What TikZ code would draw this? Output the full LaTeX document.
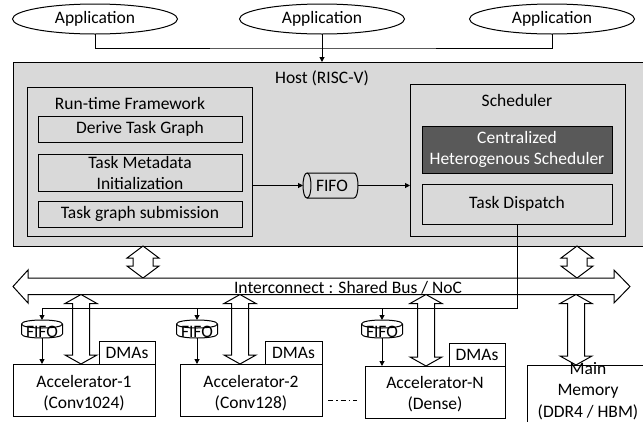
\documentclass[tikz,border=0pt]{standalone}
\usepackage{fontspec}
\setmainfont{Carlito}
\usetikzlibrary{shapes.geometric,arrows.meta}
\definecolor{hostgray}{HTML}{D9D9D9}
\definecolor{schedgray}{HTML}{595959}
\newcommand\fsz{\fontsize{17.5}{21.5}\selectfont}
% vertical hollow double arrow: x, ytop, ybot, shaft half, head half, head length
\newcommand\vdarr[6]{%
  \draw[fill=white, line join=miter] (#1,#2) -- ({#1+#5},{#2+#6}) -- ({#1+#4},{#2+#6})
    -- ({#1+#4},{#3-#6}) -- ({#1+#5},{#3-#6}) -- (#1,#3) -- ({#1-#5},{#3-#6})
    -- ({#1-#4},{#3-#6}) -- ({#1-#4},{#2+#6}) -- ({#1-#5},{#2+#6}) -- cycle;}
% vertical cylinder: cx, top, bottom, width, ry
\newcommand\vcyl[5]{%
  \draw[fill=white] ({#1-#4/2},{#2+#5}) -- ({#1-#4/2},{#3-#5})
    .. controls ({#1-#4/2},{#3+#5/3}) and ({#1+#4/2},{#3+#5/3}) .. ({#1+#4/2},{#3-#5})
    -- ({#1+#4/2},{#2+#5})
    .. controls ({#1+#4/2},{#2-#5/3}) and ({#1-#4/2},{#2-#5/3}) .. ({#1-#4/2},{#2+#5}) -- cycle;
  \draw ({#1-#4/2},{#2+#5}) .. controls ({#1-#4/2},{#2+7*#5/3}) and ({#1+#4/2},{#2+7*#5/3}) .. ({#1+#4/2},{#2+#5});}
\begin{document}
\begin{tikzpicture}[x=1pt,y=-1pt, line width=1pt,
  every node/.style={inner sep=0pt, outer sep=0pt, font=\fsz},
  bx/.style={draw, rectangle, align=center},
  gbx/.style={bx, fill=hostgray},
  wbx/.style={bx, fill=white},
  app/.style={draw, ellipse, fill=white, minimum width=165, minimum height=30},
  arr/.style={-{Triangle[length=5pt,width=5pt]}},
  txt/.style={align=center},
  fifobox/.style={minimum width=41, minimum height=18},
  dashdot/.style={dash pattern=on 5pt off 3pt on 1.5pt off 3pt}]
\useasboundingbox (0,0) rectangle (643,421);

% applications
\node[app] (app1) at (95,19) {Application};
\node[app] (app2) at (322,19) {Application};
\node[app] (app3) at (552,19) {Application};

% host
\node[gbx, minimum width=633, minimum height=184] (host) at (329.5,154) {};
\node (hosttitle) at (322,78) {Host (RISC-V)};

\coordinate (join) at (322,48);
\draw (app1.south) |- (join) -| (app3.south);
\draw[arr] (app2.south) -- (app2.south |- host.north);

% run-time framework
\node[gbx, minimum width=225, minimum height=149] (rt) at (139.5,161.5) {};
\node (rttitle) at (130,103) {Run-time Framework};
\node[gbx, minimum width=204, minimum height=26] (derive) at (140,129) {Derive Task Graph};
\node[gbx, minimum width=204, minimum height=37] (meta) at (140,172.5) {};
\node[txt] (metatxt) at (140,173) {Task Metadata\\Initialization};
\node[gbx, minimum width=204, minimum height=26] (submit) at (140,214) {Task graph submission};

% FIFO (horizontal)
\draw[fill=hostgray] (307,173) -- (354,173) .. controls (359.3,173) and (359.3,198) .. (354,198)
  -- (307,198) .. controls (301.7,198) and (301.7,173) .. (307,173) -- cycle;
\draw (307,173) .. controls (312.3,173) and (312.3,198) .. (307,198);
\node[minimum width=55, minimum height=25] (fifoh) at (330.5,185.5) {\hspace*{3pt}FIFO};

% scheduler
\node[gbx, minimum width=215, minimum height=152] (sched) at (517.5,160) {};
\node (schedtitle) at (517,100) {Scheduler};
\node[bx, fill=schedgray, text=white, minimum width=190, minimum height=47] (chs) at (517,149.5) {Centralized\\Heterogenous Scheduler};
\node[gbx, minimum width=190, minimum height=40] (disp) at (517,204) {Task Dispatch};

\draw[arr] (rt.east |- fifoh.west) -- (fifoh.west);
\draw[arr] (fifoh.east) -- (sched.west |- fifoh.east);

% host to bus arrows
\vdarr{143}{246}{278}{10}{16}{12}
\vdarr{577}{246}{278}{10}{16}{12}

% interconnect bus
\draw[fill=white, line join=miter] (13,286.5) -- (28,270) -- (28,278) -- (614,278) -- (614,270)
  -- (630,286.5) -- (614,303) -- (614,294.5) -- (28,294.5) -- (28,303) -- cycle;
\node[anchor=base] (bustxt) at (348,293) {Interconnect : Shared Bus / NoC};

% bus to accelerators / memory
\vdarr{81}{294.5}{364}{8.5}{16}{9}
\vdarr{240}{294.5}{364}{8.5}{16}{9}
\vdarr{426}{294.5}{366}{8.5}{16}{9}
\vdarr{576}{294.5}{365}{8.5}{16}{9}

% accelerators
\node[wbx, minimum width=142, minimum height=52] (acc1) at (84,390) {};
\node[txt] (acc1txt) at (84,393) {Accelerator-1\\(Conv1024)};
\node[wbx, minimum width=142, minimum height=52] (acc2) at (251,390) {};
\node[txt] (acc2txt) at (251,393) {Accelerator-2\\(Conv128)};
\node[wbx, minimum width=140, minimum height=52] (accn) at (435,392) {};
\node[txt] (accntxt) at (435,394) {Accelerator-N\\(Dense)};
\node[wbx, minimum width=118, minimum height=58] (mem) at (586,394) {};
\node[txt] (memtxt) at (588,391) {Main\\Memory\\(DDR4 / HBM)};

\node[wbx, minimum width=56, minimum height=23] (dma1) at (127,352.5) {DMAs};
\node[wbx, minimum width=57, minimum height=23] (dma2) at (293.5,352.5) {DMAs};
\node[wbx, minimum width=56, minimum height=23] (dman) at (477,354.5) {DMAs};

\coordinate (dd1) at (328,400);
\coordinate (dd2) at (357,400);
\draw[dashdot] (dd1) -- (dd2);

% FIFOs (vertical)
\vcyl{42}{320}{338}{41}{4}
\vcyl{197}{320}{338}{41}{4}
\vcyl{382}{320}{338}{41}{4}
\node[fifobox] (fifo1) at (42,329) {};
\node[fifobox] (fifo2) at (197,329) {};
\node[fifobox] (fifon) at (382,329) {};
\node (fifo1txt) at (42,331.5) {FIFO};
\node (fifo2txt) at (197,331.5) {FIFO};
\node (fifontxt) at (382,331.5) {FIFO};

% dispatch line
\coordinate (dc) at (517,308);
\coordinate (dl) at (42,308);
\draw (disp.south) -- (dc) -- (dl);
\draw[arr] (dl) -- (fifo1.north);
\draw[arr] (fifo2.north |- dc) -- (fifo2.north);
\draw[arr] (fifon.north |- dc) -- (fifon.north);
\draw[arr] (fifo1.south) -- (fifo1.south |- acc1.north);
\draw[arr] (fifo2.south) -- (fifo2.south |- acc2.north);
\draw[arr] (fifon.south) -- (fifon.south |- accn.north);
\end{tikzpicture}
\end{document}
